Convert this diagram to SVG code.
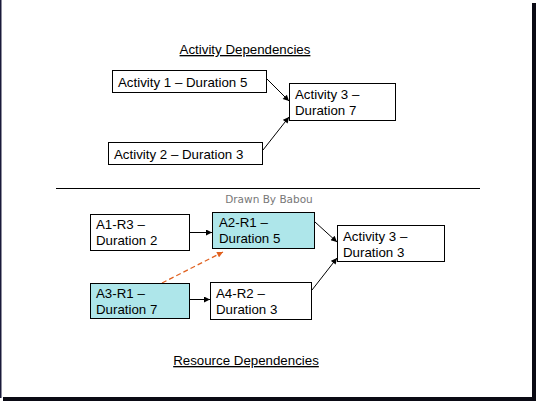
<svg xmlns="http://www.w3.org/2000/svg" width="538" height="402" viewBox="0 0 538 402">
<defs>
<style>
.box{fill:#fff;stroke:#000;stroke-width:1}
.cyan{fill:#AEE6EA;stroke:#000;stroke-width:1}
.t{font-family:"Liberation Sans",Arial,sans-serif;font-size:13.3px;fill:#000}
.conn{stroke:#000;stroke-width:1;fill:none;marker-end:url(#ah)}
.dash{stroke:#E0601E;stroke-width:1.2;fill:none;stroke-dasharray:5,3;marker-end:url(#ahO)}
</style>
<marker id="ah" viewBox="0 0 10 10" refX="10" refY="5" markerWidth="7" markerHeight="6" markerUnits="userSpaceOnUse" orient="auto">
<path d="M0,0 L10,5 L0,10 z" fill="#000"/>
</marker>
<marker id="ahO" viewBox="0 0 10 10" refX="10" refY="5" markerWidth="7" markerHeight="6" markerUnits="userSpaceOnUse" orient="auto">
<path d="M0,0 L10,5 L0,10 z" fill="#E0601E"/>
</marker>
</defs>
<rect x="0" y="0" width="538" height="402" fill="#fff"/>
<rect x="0" y="0" width="1.5" height="398" fill="#1a1a3a"/>
<rect x="532" y="3" width="4" height="398" fill="#0a0a14"/>
<rect x="3" y="397" width="533" height="4" fill="#0a0a14"/>

<g id="titles">
<text class="t" x="245" y="54" text-anchor="middle" text-decoration="underline">Activity Dependencies</text>
<text class="t" x="246" y="365" text-anchor="middle" text-decoration="underline">Resource Dependencies</text>
<text x="269" y="203" text-anchor="middle" font-family="'DejaVu Sans',Verdana,sans-serif" font-size="10.5" fill="#777">Drawn By Babou</text>
<line x1="56" y1="188.5" x2="480" y2="188.5" stroke="#000" stroke-width="1"/>
</g>

<g id="connectors">
<line class="conn" x1="266" y1="78" x2="289" y2="101"/>
<line class="conn" x1="263" y1="150" x2="289" y2="117"/>
<line class="conn" x1="190" y1="232.5" x2="212" y2="232.5"/>
<line class="conn" x1="315" y1="222" x2="337" y2="242"/>
<line class="conn" x1="312" y1="290" x2="337" y2="258"/>
<line class="conn" x1="190" y1="299.5" x2="210" y2="299.5"/>
<line class="dash" x1="162" y1="283" x2="223" y2="252"/>
</g>

<g id="act1">
<rect class="box" x="112.5" y="70.5" width="154" height="22"/>
<text class="t" x="118" y="87">Activity 1 – Duration 5</text>
</g>
<g id="act2">
<rect class="box" x="108.5" y="142.5" width="154" height="22"/>
<text class="t" x="114" y="159">Activity 2 – Duration 3</text>
</g>
<g id="act3">
<rect class="box" x="289.5" y="83.5" width="106" height="37"/>
<text class="t" x="295" y="99">Activity 3 –</text>
<text class="t" x="295" y="115">Duration 7</text>
</g>

<g id="a1r3">
<rect class="box" x="90.5" y="214.5" width="99" height="36"/>
<text class="t" x="96" y="229">A1-R3 –</text>
<text class="t" x="96" y="245">Duration 2</text>
</g>
<g id="a2r1">
<rect class="cyan" x="212.5" y="212.5" width="102" height="36"/>
<text class="t" x="219" y="227">A2-R1 –</text>
<text class="t" x="219" y="243">Duration 5</text>
</g>
<g id="act3b">
<rect class="box" x="337.5" y="225.5" width="107" height="36"/>
<text class="t" x="343" y="241">Activity 3 –</text>
<text class="t" x="343" y="257">Duration 3</text>
</g>
<g id="a3r1">
<rect class="cyan" x="90.5" y="283.5" width="99" height="35"/>
<text class="t" x="96" y="298">A3-R1 –</text>
<text class="t" x="96" y="314">Duration 7</text>
</g>
<g id="a4r2">
<rect class="box" x="210.5" y="282.5" width="101" height="37"/>
<text class="t" x="216" y="298">A4-R2 –</text>
<text class="t" x="216" y="314">Duration 3</text>
</g>
</svg>
